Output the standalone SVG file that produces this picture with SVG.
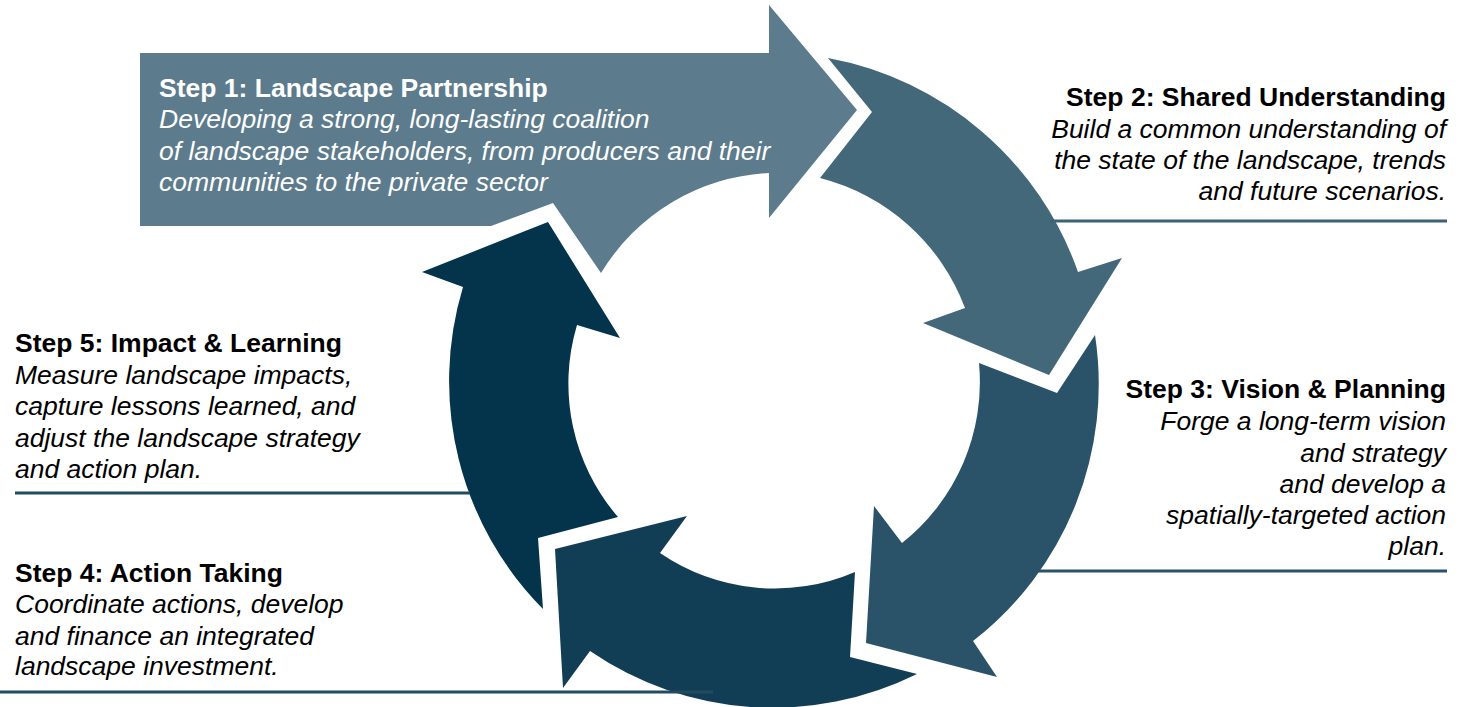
<svg xmlns="http://www.w3.org/2000/svg" width="1460" height="707" viewBox="0 0 1460 707">
<style>
.h{font-family:"Liberation Sans",Arial,sans-serif;font-size:26.5px;font-weight:bold;fill:#000}
.b{font-family:"Liberation Sans",Arial,sans-serif;font-size:26.5px;font-style:italic;fill:#000}
.w{fill:#fff}
.r{text-anchor:end}
.ln{stroke:#234b60;stroke-width:3;fill:none}
</style>
<rect width="1460" height="707" fill="#fff"/>
<g id="step1">
<path d="M140,53 L769,53 L769,5 L857,110 L769,218 L769,173 A208,208 0 0 0 601,273 L553,203 L491,226 L140,226 Z" fill="#5c7b8c"/>
<text class="h w" x="159" y="97">Step 1: Landscape Partnership</text>
<text class="b w" x="159" y="128">Developing a strong, long-lasting coalition</text>
<text class="b w" x="159" y="160">of landscape stakeholders, from producers and their</text>
<text class="b w" x="159" y="191">communities to the private sector</text>
</g>
<g id="step2">
<path d="M828,58 L872,112 L820,178 A210,210 0 0 1 965,308 L923,323 L1049,375 L1122,258 L1078,272 A328,328 0 0 0 828,58 Z" fill="#436879"/>
<text class="h r" x="1446" y="106">Step 2: Shared Understanding</text>
<text class="b r" x="1446" y="138">Build a common understanding of</text>
<text class="b r" x="1446" y="169">the state of the landscape, trends</text>
<text class="b r" x="1446" y="200">and future scenarios.</text>
</g>
<g id="step3">
<path d="M1095,335 L1057,393 L979,363 A205,205 0 0 1 902,543 L874,506 L866,643 L997,677 L973,641 A325,325 0 0 0 1095,335 Z" fill="#2a5369"/>
<text class="h r" x="1446" y="398">Step 3: Vision &amp; Planning</text>
<text class="b r" x="1446" y="430">Forge a long-term vision</text>
<text class="b r" x="1446" y="462">and strategy</text>
<text class="b r" x="1446" y="493">and develop a</text>
<text class="b r" x="1446" y="524">spatially-targeted action</text>
<text class="b r" x="1446" y="555">plan.</text>
</g>
<g id="step4">
<path d="M855,572 L850,657 L917,674 A324,324 0 0 1 590,651 L563,688 L555,549 L687,516 L660,553 A203,203 0 0 0 855,572 Z" fill="#123e55"/>
<text class="h" x="15" y="582">Step 4: Action Taking</text>
<text class="b" x="15" y="613">Coordinate actions, develop</text>
<text class="b" x="15" y="645">and finance an integrated</text>
<text class="b" x="15" y="675">landscape investment.</text>
</g>
<g id="step5">
<path d="M543,609 L538,538 L618,517 A204,204 0 0 1 577,325 L620,338 L548,222 L422,272 L463,287 A324,324 0 0 0 543,609 Z" fill="#03344b"/>
<text class="h" x="15" y="352">Step 5: Impact &amp; Learning</text>
<text class="b" x="15" y="384">Measure landscape impacts,</text>
<text class="b" x="15" y="415">capture lessons learned, and</text>
<text class="b" x="15" y="447">adjust the landscape strategy</text>
<text class="b" x="15" y="478">and action plan.</text>
</g>
<g id="connectors">
<line class="ln" x1="1050" y1="221" x2="1447" y2="221" stroke-width="2.5" style="stroke:#3d6276"/>
<line class="ln" x1="1038" y1="571" x2="1447" y2="571" style="stroke:#2a5369"/>
<line class="ln" x1="15" y1="493" x2="470" y2="493"/>
<line class="ln" x1="0" y1="692" x2="713" y2="692"/>
</g>
</svg>
